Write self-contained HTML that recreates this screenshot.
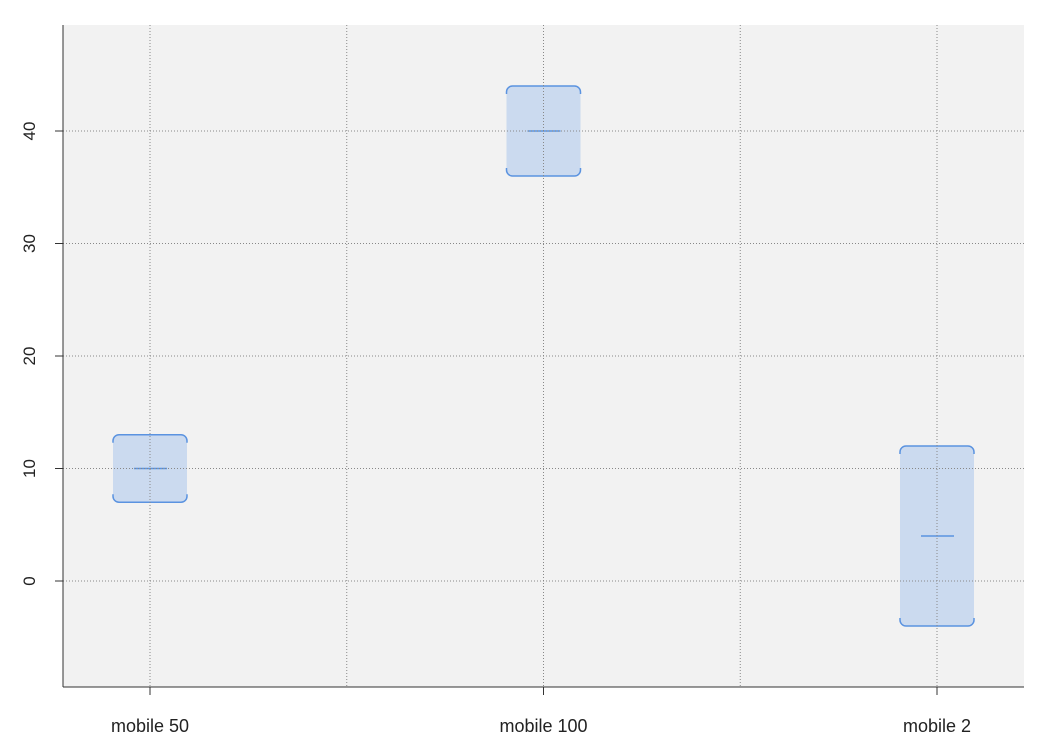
<!DOCTYPE html>
<html><head><meta charset="utf-8"><style>
html,body{margin:0;padding:0;background:#fff;}
svg{display:block;font-family:"Liberation Sans",sans-serif;}
</style></head><body>
<svg id="chart" width="1050" height="750">
<rect x="63" y="25" width="961" height="662" fill="#f2f2f2"/>
<g id="boxes"></g>
<g id="grid"></g>
<line x1="63" y1="25" x2="63" y2="687" stroke="#333"/>
<line x1="63" y1="687" x2="1024" y2="687" stroke="#333"/>
<g id="axes"></g>
</svg>
<script>
const categories = ["mobile 50", "mobile 100", "mobile 2"];
const q1Values = [7, 36, -4];
const medianValues = [10, 40, 4];
const q3Values = [13, 44, 12];
const yTicks = [0, 10, 20, 30, 40];

const NS = "http://www.w3.org/2000/svg";
const y = v => 581 - v * 11.25;
const step = 393.5;
const x = i => 150 + i * step;
function mk(tag, attrs, parent) {
  const e = document.createElementNS(NS, tag);
  for (const k in attrs) e.setAttribute(k, attrs[k]);
  parent.appendChild(e);
  return e;
}
const boxes = document.getElementById("boxes"), grid = document.getElementById("grid"), axes = document.getElementById("axes");
const hw = 37, r = 6;
categories.forEach((c, i) => {
  const cx = x(i), t = y(q3Values[i]), b = y(q1Values[i]);
  const rect = mk("rect", {x: cx - hw, y: t, width: 2 * hw, height: b - t, rx: r, fill: "#cbdaef"}, boxes);
  
  
  const top = mk("path", {d: `M${cx-hw},${t+r+2} L${cx-hw},${t+r} A${r},${r} 0 0 1 ${cx-hw+r},${t} L${cx+hw-r},${t} A${r},${r} 0 0 1 ${cx+hw},${t+r} L${cx+hw},${t+r+2}`, fill: "none", stroke: "#5b93e0", "stroke-width": 1.5}, boxes);
  
  
  const bot = mk("path", {d: `M${cx-hw},${b-r-2} L${cx-hw},${b-r} A${r},${r} 0 0 0 ${cx-hw+r},${b} L${cx+hw-r},${b} A${r},${r} 0 0 0 ${cx+hw},${b-r} L${cx+hw},${b-r-2}`, fill: "none", stroke: "#5b93e0", "stroke-width": 1.5}, boxes);
  
  
  const m = mk("line", {x1: cx - 16, x2: cx + 17, y1: y(medianValues[i]), y2: y(medianValues[i]), stroke: "#5b93e0", "stroke-width": 1.5}, boxes);
  
  
  const tk = mk("line", {x1: cx, x2: cx, y1: 687, y2: 695, stroke: "#333"}, axes);
  
  
  const lb = mk("text", {x: cx, y: 732, "text-anchor": "middle", "font-size": 18, fill: "#222"}, axes);
  lb.textContent = c;
  
  
});
for (let k = 0; k < categories.length * 2 - 1; k++) {
  const gx = 150 + k * step / 2;
  const g = mk("line", {x1: gx, x2: gx, y1: 25, y2: 687, stroke: "#888", "stroke-width": 1, "stroke-dasharray": "1,2"}, grid);
  
  
}
yTicks.forEach(v => {
  const g = mk("line", {x1: 63, x2: 1024, y1: y(v), y2: y(v), stroke: "#888", "stroke-width": 1, "stroke-dasharray": "1,2"}, grid);
  
  
  const tk = mk("line", {x1: 55, x2: 63, y1: y(v), y2: y(v), stroke: "#333"}, axes);
  
  
  const lb = mk("text", {x: 0, y: 0, transform: `translate(35,${y(v)}) rotate(-90)`, "text-anchor": "middle", "font-size": 17, fill: "#222"}, axes);
  lb.textContent = v;
  
  
});
</script>
</body></html>
